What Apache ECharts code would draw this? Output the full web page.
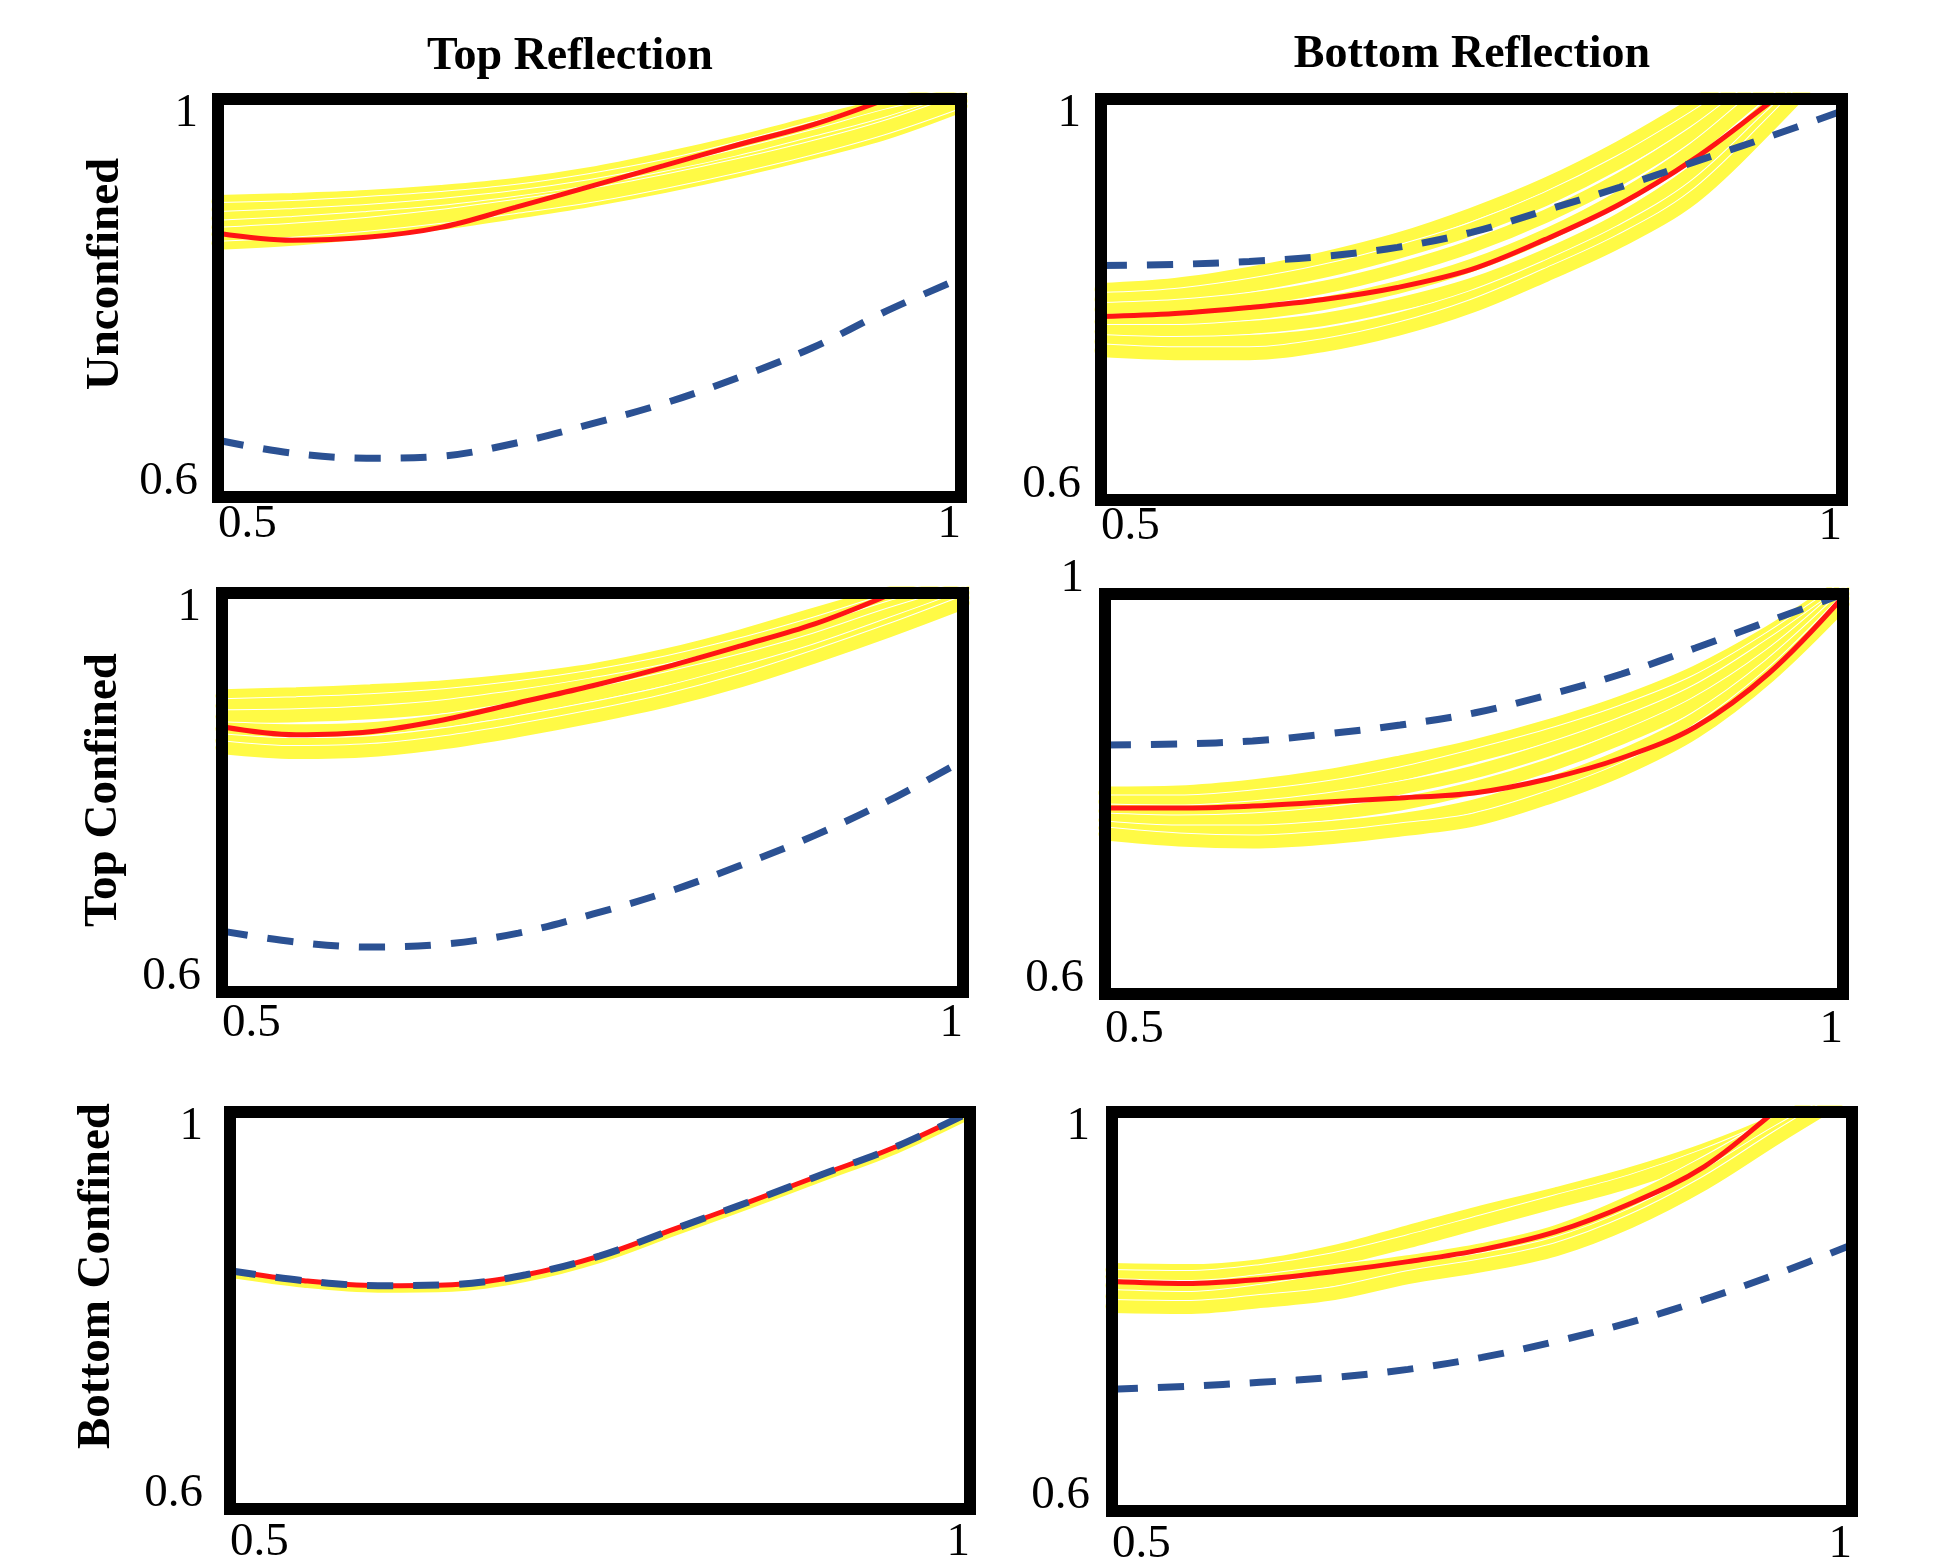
<!DOCTYPE html>
<html>
<head>
<meta charset="utf-8">
<title>Reflection panels</title>
<script src="https://cdn.jsdelivr.net/npm/echarts@6/dist/echarts.min.js"></script>
<style>
  html, body { margin: 0; padding: 0; background: #fff; }
  #chart { width: 1937px; height: 1563px; }
</style>
</head>
<body>
<div id="chart"></div>
<script>
// shared x samples and tick labels
const xs = [0.5, 0.55, 0.6, 0.65, 0.7, 0.75, 0.8, 0.85, 0.9, 0.95, 1.0];
const xTicks = [0.5, 1];
const yTicks = [0.6, 1];
const colTitles = ["Top Reflection", "Bottom Reflection"];
const rowTitles = ["Unconfined", "Top Confined", "Bottom Confined"];

// Unconfined / top reflection
const ucTopRed = [0.865, 0.858, 0.861, 0.871, 0.891, 0.912, 0.933, 0.954, 0.974, 1.0, 1.03];
const ucTopBlue = [0.657, 0.644, 0.639, 0.641, 0.654, 0.673, 0.694, 0.720, 0.750, 0.787, 0.820];
const ucTopYellow = [
  [0.897, 0.899, 0.902, 0.907, 0.914, 0.925, 0.940, 0.957, 0.976, 0.995, 1.01],
  [0.889, 0.891, 0.895, 0.900, 0.907, 0.918, 0.932, 0.950, 0.970, 0.990, 1.005],
  [0.880, 0.883, 0.887, 0.893, 0.901, 0.912, 0.926, 0.943, 0.962, 0.983, 1.0],
  [0.871, 0.875, 0.880, 0.886, 0.895, 0.906, 0.920, 0.936, 0.955, 0.975, 1.0],
  [0.855, 0.859, 0.866, 0.875, 0.886, 0.898, 0.912, 0.928, 0.946, 0.966, 0.993],
  [0.864, 0.868, 0.874, 0.882, 0.892, 0.903, 0.917, 0.933, 0.951, 0.972, 0.998]
];

// Unconfined / bottom reflection
const ucBotRed = [0.783, 0.786, 0.792, 0.800, 0.812, 0.830, 0.860, 0.895, 0.940, 0.995, 1.05];
const ucBotBlue = [0.834, 0.835, 0.838, 0.843, 0.852, 0.867, 0.889, 0.912, 0.937, 0.962, 0.988];
const ucBotYellow = [
  [0.810, 0.815, 0.826, 0.841, 0.860, 0.885, 0.915, 0.952, 0.995, 1.04, 1.08],
  [0.800, 0.804, 0.814, 0.828, 0.847, 0.870, 0.900, 0.937, 0.981, 1.03, 1.07],
  [0.790, 0.793, 0.800, 0.812, 0.830, 0.853, 0.883, 0.920, 0.966, 1.02, 1.06],
  [0.778, 0.780, 0.786, 0.796, 0.812, 0.834, 0.864, 0.902, 0.950, 1.01, 1.06],
  [0.768, 0.768, 0.772, 0.780, 0.795, 0.815, 0.844, 0.880, 0.928, 0.992, 1.05],
  [0.758, 0.756, 0.758, 0.765, 0.780, 0.802, 0.832, 0.867, 0.912, 0.980, 1.05],
  [0.749, 0.746, 0.746, 0.754, 0.770, 0.793, 0.824, 0.858, 0.902, 0.972, 1.05]
];

// Top confined / top reflection
const tcTopRed = [0.866, 0.858, 0.861, 0.873, 0.890, 0.907, 0.926, 0.947, 0.969, 0.998, 1.03];
const tcTopBlue = [0.661, 0.650, 0.645, 0.648, 0.659, 0.678, 0.700, 0.727, 0.757, 0.792, 0.832];
const tcTopYellow = [
  [0.897, 0.899, 0.902, 0.906, 0.913, 0.923, 0.938, 0.957, 0.979, 1.0, 1.02],
  [0.887, 0.889, 0.892, 0.897, 0.905, 0.916, 0.930, 0.948, 0.969, 0.992, 1.01],
  [0.876, 0.877, 0.880, 0.886, 0.896, 0.908, 0.922, 0.940, 0.961, 0.985, 1.005],
  [0.864, 0.862, 0.864, 0.872, 0.884, 0.898, 0.914, 0.932, 0.953, 0.978, 1.0],
  [0.852, 0.848, 0.850, 0.858, 0.870, 0.884, 0.900, 0.920, 0.942, 0.968, 0.995],
  [0.845, 0.840, 0.842, 0.850, 0.862, 0.876, 0.892, 0.912, 0.936, 0.962, 0.99]
];

// Top confined / bottom reflection
const tcBotRed = [0.786, 0.786, 0.788, 0.792, 0.796, 0.801, 0.815, 0.836, 0.867, 0.921, 0.997];
const tcBotBlue = [0.849, 0.850, 0.853, 0.860, 0.869, 0.881, 0.899, 0.920, 0.946, 0.973, 1.0];
const tcBotYellow = [
  [0.801, 0.802, 0.808, 0.818, 0.832, 0.848, 0.868, 0.892, 0.922, 0.962, 1.01],
  [0.792, 0.792, 0.797, 0.806, 0.820, 0.838, 0.858, 0.882, 0.912, 0.955, 1.005],
  [0.783, 0.782, 0.786, 0.794, 0.806, 0.822, 0.844, 0.870, 0.902, 0.948, 1.0],
  [0.774, 0.772, 0.774, 0.780, 0.790, 0.806, 0.828, 0.856, 0.890, 0.938, 1.0],
  [0.766, 0.762, 0.762, 0.766, 0.774, 0.788, 0.810, 0.838, 0.875, 0.928, 0.995],
  [0.760, 0.754, 0.752, 0.756, 0.764, 0.774, 0.796, 0.824, 0.862, 0.918, 0.99]
];

// Bottom confined / top reflection (all three coincide)
const bcTopRed = [0.840, 0.830, 0.825, 0.826, 0.836, 0.855, 0.882, 0.909, 0.937, 0.965, 1.0];
const bcTopBlue = [0.840, 0.830, 0.825, 0.826, 0.836, 0.855, 0.882, 0.909, 0.937, 0.965, 1.0];
const bcTopYellow = [
  [0.837, 0.827, 0.822, 0.823, 0.833, 0.852, 0.879, 0.906, 0.934, 0.962, 0.997]
];

// Bottom confined / bottom reflection
const bcBotRed = [0.830, 0.828, 0.832, 0.840, 0.850, 0.862, 0.880, 0.908, 0.945, 1.003, 1.06];
const bcBotBlue = [0.722, 0.725, 0.729, 0.734, 0.742, 0.754, 0.770, 0.789, 0.812, 0.838, 0.867];
const bcBotYellow = [
  [0.842, 0.841, 0.846, 0.860, 0.880, 0.900, 0.918, 0.938, 0.962, 0.992, 1.03],
  [0.835, 0.834, 0.840, 0.852, 0.870, 0.890, 0.910, 0.930, 0.956, 0.988, 1.03],
  [0.826, 0.824, 0.830, 0.840, 0.850, 0.862, 0.880, 0.910, 0.948, 0.990, 1.03],
  [0.815, 0.813, 0.820, 0.832, 0.842, 0.852, 0.868, 0.896, 0.935, 0.980, 1.02],
  [0.805, 0.804, 0.810, 0.818, 0.834, 0.846, 0.862, 0.890, 0.928, 0.975, 1.02]
];

const YELLOW = "#fffa45";
const RED = "#ff1414";
const BLUE = "#2b5193";
const SERIF = "'Liberation Serif', 'DejaVu Serif', serif";

// panel layout, row by row (left = top reflection, right = bottom reflection)
const panels = [
  { rect: { left: 218, top: 99, width: 743, height: 398 }, xMargin: 13, yMargin: 20, maxAlign: "top", red: ucTopRed, blue: ucTopBlue, yellow: ucTopYellow },
  { rect: { left: 1101, top: 99, width: 741, height: 401 }, xMargin: 12, yMargin: 20, maxAlign: "top", red: ucBotRed, blue: ucBotBlue, yellow: ucBotYellow },
  { rect: { left: 222, top: 593, width: 741, height: 399 }, xMargin: 17, yMargin: 21, maxAlign: "top", red: tcTopRed, blue: tcTopBlue, yellow: tcTopYellow },
  { rect: { left: 1105, top: 594, width: 738, height: 400 }, xMargin: 21, yMargin: 21, maxAlign: "bottom", red: tcBotRed, blue: tcBotBlue, yellow: tcBotYellow },
  { rect: { left: 230, top: 1112, width: 740, height: 397 }, xMargin: 19, yMargin: 27, maxAlign: "top", red: bcTopRed, blue: bcTopBlue, yellow: bcTopYellow, yellowWidth: 8 },
  { rect: { left: 1112, top: 1112, width: 740, height: 399 }, xMargin: 19, yMargin: 22, maxAlign: "top", red: bcBotRed, blue: bcBotBlue, yellow: bcBotYellow }
];

const labelFont = {
  fontFamily: SERIF,
  fontSize: 47,
  color: "#000",
  lineHeight: 30
};

function line(gi, ys, color, width, dash) {
  return {
    type: "line",
    xAxisIndex: gi,
    yAxisIndex: gi,
    data: xs.map((x, k) => [x, ys[k]]),
    smooth: 0.35,
    showSymbol: false,
    symbol: "none",
    clip: true,
    silent: true,
    lineStyle: { color: color, width: width, type: dash || "solid", cap: dash ? "butt" : "round" }
  };
}

const series = [];
panels.forEach((p, i) => {
  const yw = p.yellowWidth || 13;
  p.yellow.forEach((ys) => {
    series.push(line(i, ys, "#ffffff", yw + 2));
    series.push(line(i, ys, YELLOW, yw));
  });
  series.push(line(i, p.red, RED, 5));
  series.push(line(i, p.blue, BLUE, 7, [26, 20]));
});

const chart = echarts.init(document.getElementById("chart"), null, { renderer: "canvas" });

chart.setOption({
  animation: false,
  backgroundColor: "#fff",
  grid: panels.map((p) => ({
    left: p.rect.left,
    top: p.rect.top,
    width: p.rect.width,
    height: p.rect.height,
    outerBoundsMode: "none",
    containLabel: false,
    show: true,
    backgroundColor: "transparent",
    borderColor: "#000",
    borderWidth: 12,
    z: 5
  })),
  xAxis: panels.map((p, i) => ({
    type: "value",
    gridIndex: i,
    min: 0.5,
    max: 1,
    axisLine: { show: false },
    axisTick: { show: false },
    splitLine: { show: false },
    axisLabel: Object.assign({
      customValues: xTicks,
      margin: p.xMargin,
      alignMinLabel: "left",
      alignMaxLabel: "right"
    }, labelFont)
  })),
  yAxis: panels.map((p, i) => ({
    type: "value",
    gridIndex: i,
    min: 0.6,
    max: 1,
    axisLine: { show: false },
    axisTick: { show: false },
    splitLine: { show: false },
    axisLabel: Object.assign({
      customValues: yTicks,
      margin: p.yMargin,
      verticalAlignMinLabel: "bottom",
      verticalAlignMaxLabel: p.maxAlign
    }, labelFont)
  })),
  graphic: [
    { type: "text", x: 570, y: 57, style: { text: colTitles[0], fontFamily: SERIF, fontWeight: "bold", fontSize: 46, fill: "#000", align: "center", verticalAlign: "middle" } },
    { type: "text", x: 1472, y: 55, style: { text: colTitles[1], fontFamily: SERIF, fontWeight: "bold", fontSize: 46, fill: "#000", align: "center", verticalAlign: "middle" } },
    { type: "text", x: 106, y: 274, rotation: Math.PI / 2, style: { text: rowTitles[0], fontFamily: SERIF, fontWeight: "bold", fontSize: 47, fill: "#000", align: "center", verticalAlign: "middle" } },
    { type: "text", x: 104, y: 790, rotation: Math.PI / 2, style: { text: rowTitles[1], fontFamily: SERIF, fontWeight: "bold", fontSize: 47, fill: "#000", align: "center", verticalAlign: "middle" } },
    { type: "text", x: 97, y: 1276, rotation: Math.PI / 2, style: { text: rowTitles[2], fontFamily: SERIF, fontWeight: "bold", fontSize: 47, fill: "#000", align: "center", verticalAlign: "middle" } }
  ],
  series: series
});

window.addEventListener("resize", () => chart.resize());
</script>
</body>
</html>
